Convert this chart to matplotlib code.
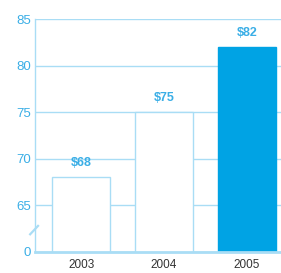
import matplotlib
matplotlib.use("Agg")
import matplotlib.pyplot as plt

years = ["2003", "2004", "2005"]
values = [68, 75, 82]
labels = ["$68", "$75", "$82"]
yticks = [60, 65, 70, 75, 80, 85]
ytick_labels = ["0", "65", "70", "75", "80", "85"]

blue = "#00a3e4"
light = "#a9ddf5"
tick_blue = "#3aaee6"

plt.rcParams["font.family"] = ["Liberation Sans", "DejaVu Sans"]

fig = plt.figure(figsize=(2.81, 2.73), dpi=100)
ax = fig.add_axes([0.125, 0.077, 0.875, 0.853])

x = range(len(years))
faces = ["white", "white", blue]
edges = [light, light, blue]
ax.bar(x, values, width=0.70, color=faces, edgecolor=edges, linewidth=1.0, zorder=2)

for i, (v, lab) in enumerate(zip(values, labels)):
    ax.text(i, v + 0.9, lab, ha="center", va="bottom", color=tick_blue,
            fontsize=9, fontweight="bold")

ax.set_ylim(60, 85)
ax.set_xlim(-0.555, 2.41)
ax.set_yticks(yticks)
ax.set_yticklabels(ytick_labels)
ax.set_xticks(list(x))
ax.set_xticklabels(years)
ax.yaxis.grid(True, color=light, linewidth=1.0, zorder=0)
ax.set_axisbelow(True)

ax.tick_params(axis="y", length=0, pad=3, labelsize=9.5, labelcolor=tick_blue)
ax.tick_params(axis="x", length=0, pad=5, labelsize=8.5, labelcolor="#333333")

for s in ["top", "right"]:
    ax.spines[s].set_visible(False)
ax.spines["left"].set_color(light)
ax.spines["left"].set_linewidth(1.0)
ax.spines["bottom"].set_color(light)
ax.spines["bottom"].set_linewidth(2.0)

# axis break mark
ax.plot([-0.615, -0.52], [61.9, 62.8], color=light, linewidth=1.6,
        clip_on=False, zorder=3)

fig.savefig("out.png", dpi=100)
